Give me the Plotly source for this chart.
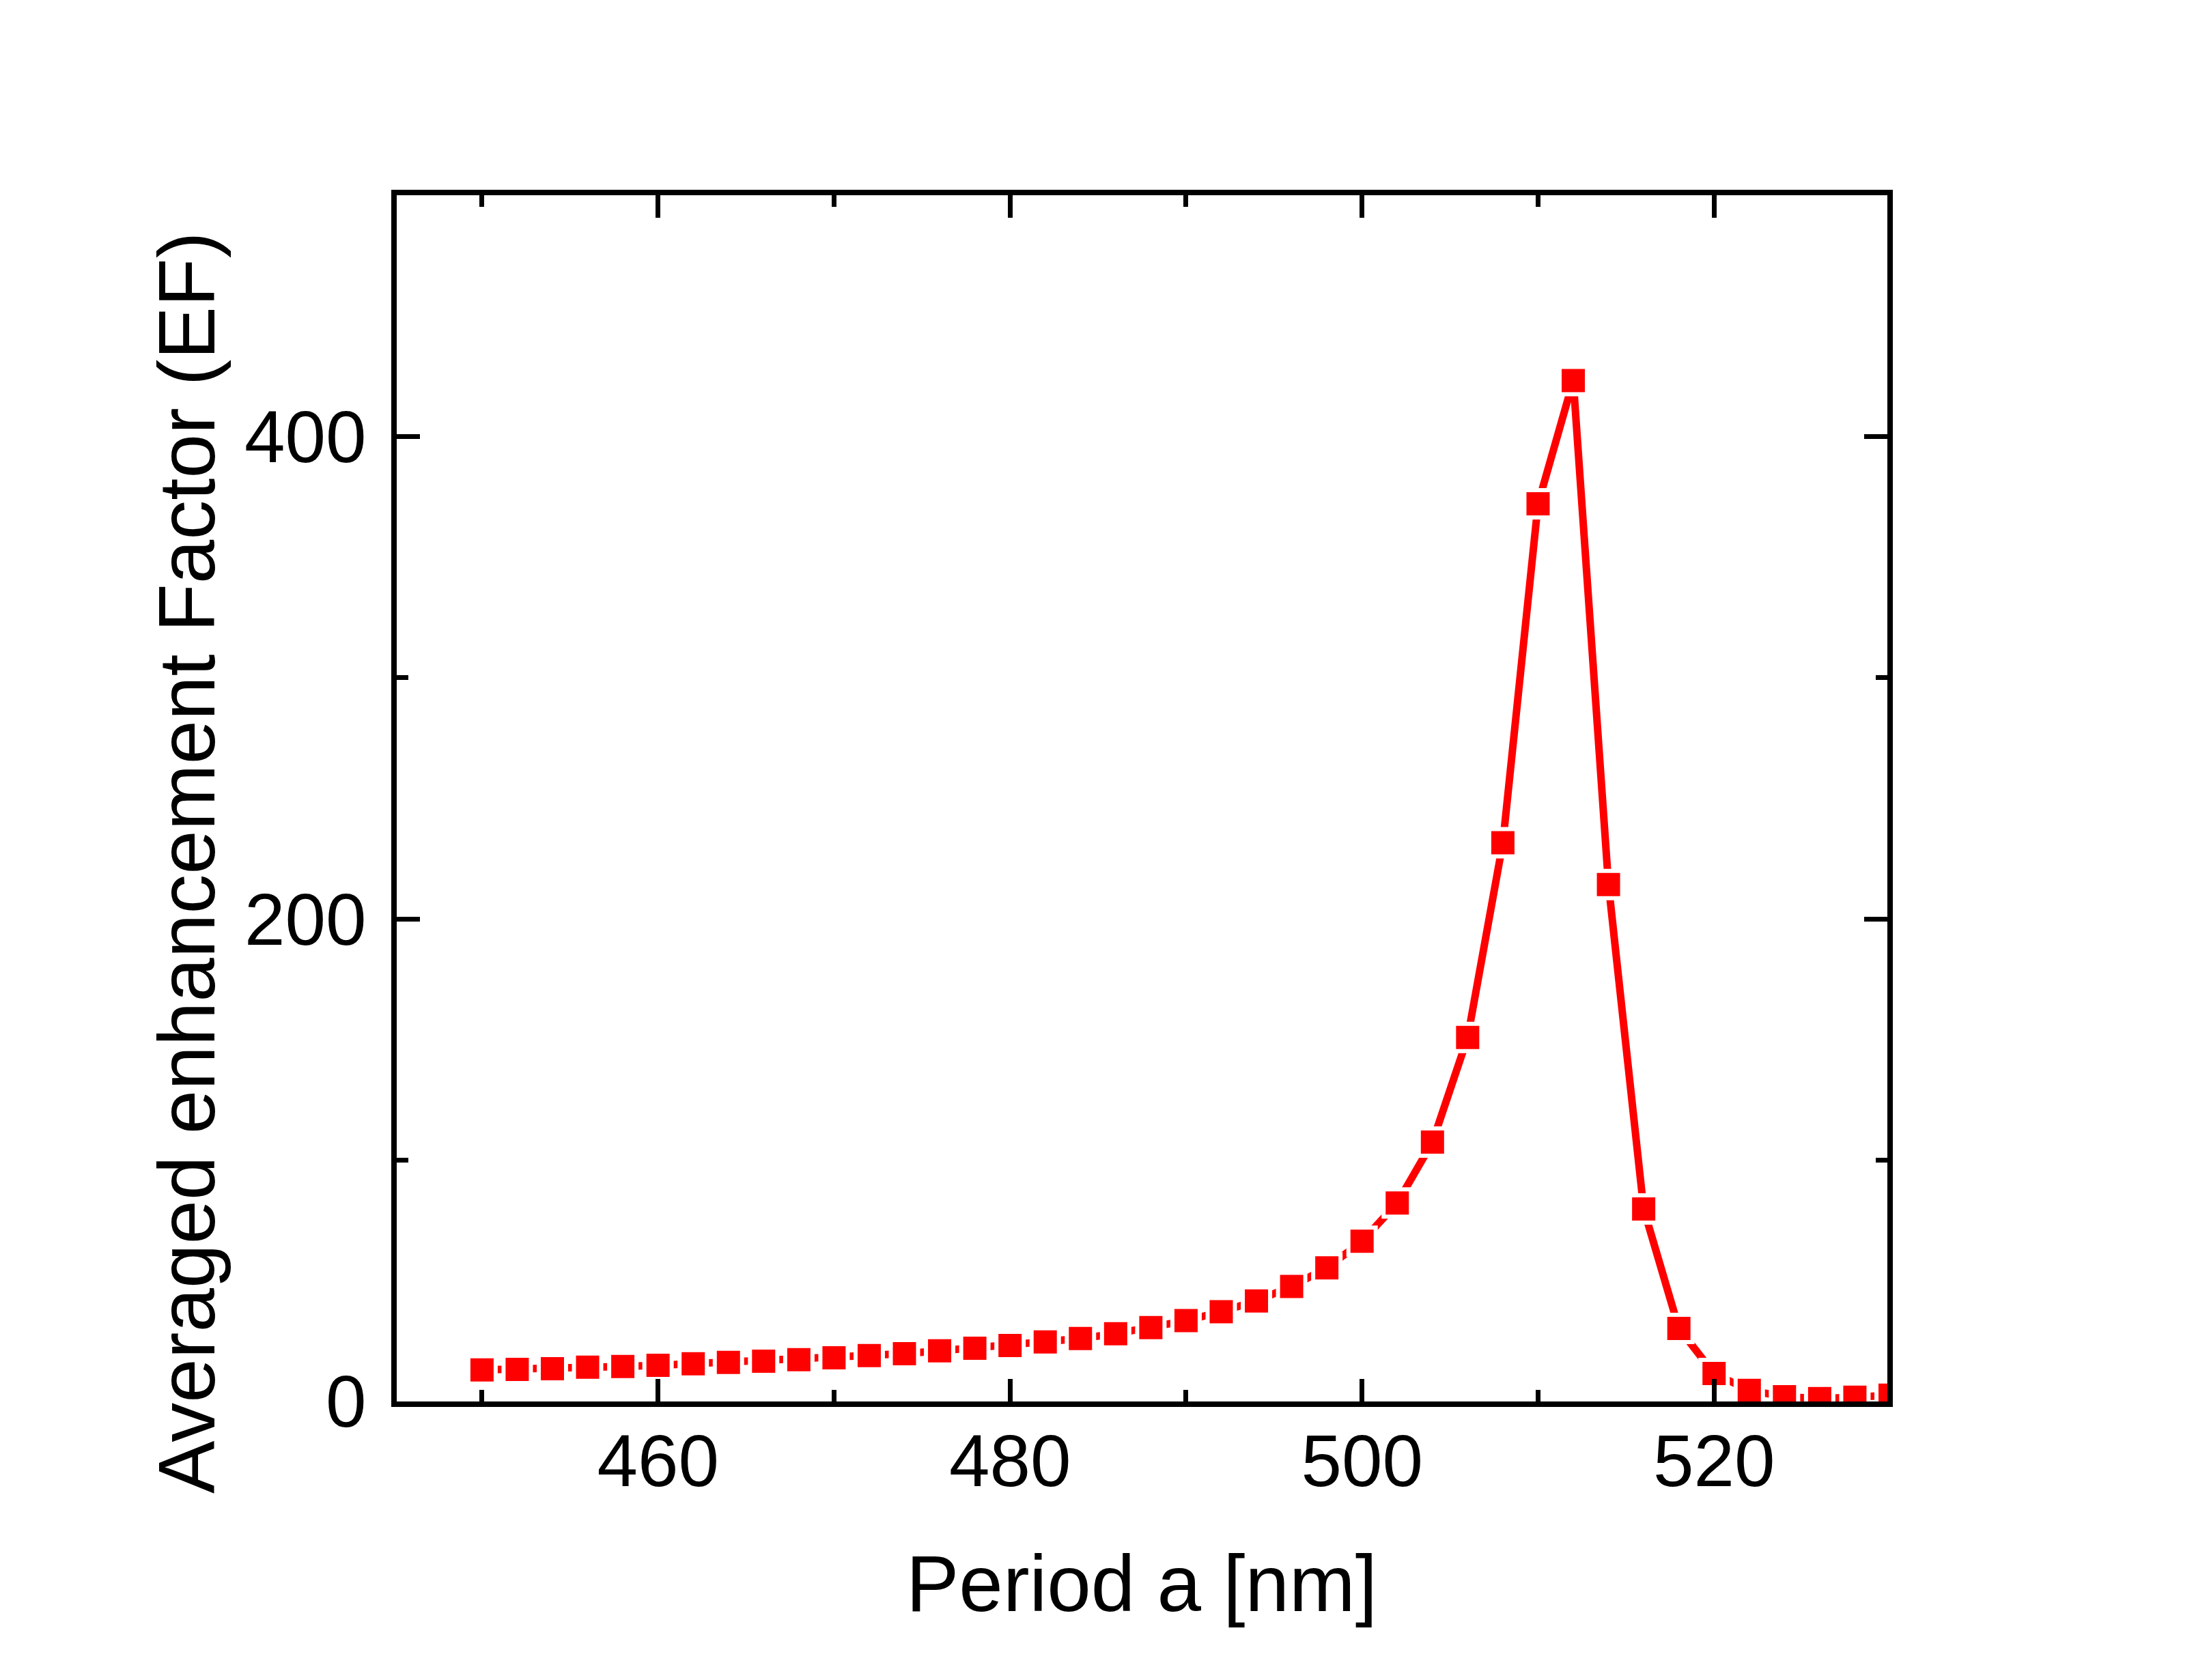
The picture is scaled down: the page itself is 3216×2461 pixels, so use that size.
import plotly.graph_objects as go

period_nm = [450, 452, 454, 456, 458, 460, 462, 464, 466, 468,
             470, 472, 474, 476, 478, 480, 482, 484, 486, 488,
             490, 492, 494, 496, 498, 500, 502, 504, 506, 508,
             510, 512, 514, 516, 518, 520, 522, 524, 526, 528, 530]
avg_ef = [13.1, 13.3, 13.6, 14.2, 14.5, 15.0, 15.6, 16.2, 16.7, 17.3,
          18.1, 19.0, 19.8, 21.0, 22.1, 23.2, 24.7, 26.1, 28.1, 30.6,
          33.5, 37.2, 41.7, 47.7, 55.4, 66.4, 82.3, 107.5, 150.9, 231.6,
          372.1, 423.2, 214.3, 79.8, 30.3, 11.6, 4.6, 2.0, 1.2, 1.75, 2.6]

x_title = "Period a [nm]"
y_title = "Averaged enhancement Factor (EF)"

FONT = "Liberation Sans, Arial, sans-serif"
# page has an 8px body margin; figure sized to fit inside the window
W, H = 3200, 2445
L, T = 573, 278
PW, PH = 2183, 1767
R = W - L - PW
B = H - T - PH
OFF = 8  # body margin offset

fig = go.Figure()
fig.add_trace(go.Scatter(
    x=period_nm, y=avg_ef, mode="lines+markers",
    line=dict(color="#FF0000", width=11),
    marker=dict(symbol="square", size=40, color="#FF0000",
                line=dict(color="white", width=6)),
    cliponaxis=True, showlegend=False,
))

axis_common = dict(
    showline=True, linecolor="black", linewidth=8, mirror="allticks",
    ticks="inside", tickcolor="black", tickwidth=7,
    showgrid=False, zeroline=False,
    tickfont=dict(family=FONT, size=107, color="black"),
)

fig.update_xaxes(range=[445.155, 529.845], tick0=460, dtick=20, ticklen=33,
                 ticklabelstandoff=-12,
                 minor=dict(dtick=10, tick0=450, ticks="inside", ticklen=17,
                            tickwidth=7, tickcolor="black", showgrid=False),
                 **axis_common)
fig.update_yaxes(range=[0, 500], tick0=0, dtick=200, ticklen=34,
                 ticklabelstandoff=15,
                 minor=dict(dtick=100, tick0=0, ticks="inside", ticklen=17,
                            tickwidth=7, tickcolor="black", showgrid=False),
                 **axis_common)


def px_to_paper_x(px):
    return (px - OFF - L) / PW


def px_to_paper_y(py):
    return (T + PH - (py - OFF)) / PH


fig.add_annotation(text=x_title, xref="paper", yref="paper",
                   x=px_to_paper_x(1672), y=px_to_paper_y(2320),
                   xanchor="center", yanchor="middle", showarrow=False,
                   font=dict(family=FONT, size=116, color="black"))
fig.add_annotation(text=y_title, xref="paper", yref="paper",
                   x=px_to_paper_x(274), y=px_to_paper_y(1264),
                   xanchor="center", yanchor="middle", textangle=-90,
                   showarrow=False,
                   font=dict(family=FONT, size=116, color="black"))

fig.update_layout(width=W, height=H,
                  margin=dict(l=L, r=R, t=T, b=B, pad=0),
                  paper_bgcolor="white", plot_bgcolor="white")

fig.write_html("out.html")
